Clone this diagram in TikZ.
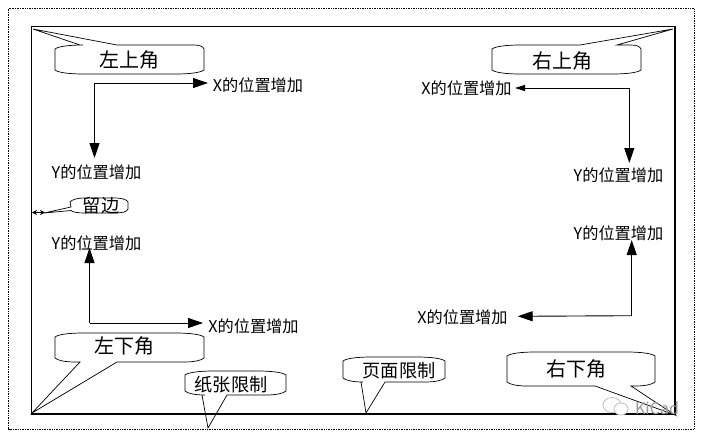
\documentclass[tikz,border=0pt]{standalone}
\usepackage{fontspec}
\usepackage{tikz}
\usetikzlibrary{arrows.meta}
\setmainfont{Noto Sans CJK SC}
\tikzset{
  calloutbody/.style={draw=black,line width=0.7pt,fill=white,line join=miter},
  bubbletext/.style={inner sep=0pt,font=\fontsize{20}{22}\selectfont},
  smalltext/.style={inner sep=0pt,font=\fontsize{18.2}{20}\selectfont},
  axistext/.style={inner sep=0pt,font=\fontsize{16.2}{18}\selectfont},
  axisline/.style={draw=black,line width=0.9pt,-{Triangle[length=15pt,width=10pt]}},
}
% x0 y0 x1 y1 base1 base2 tipx tipy : tail on the top edge
\newcommand{\calloutTop}[8]{%
  \path[calloutbody] (#1,{#2+4}) .. controls ({#1+3},{#2+1.5}) and ({#1+14},#2) .. ({#1+28},#2)
    -- (#5,#2) -- (#7,#8) -- (#6,#2) -- ({#3-10},#2)
    .. controls ({#3-4},#2) and ({#3-1},{#2+1.5}) .. (#3,{#2+4})
    -- (#3,{#4-4}) .. controls ({#3-3},{#4-1.5}) and ({#3-14},#4) .. ({#3-28},#4)
    -- ({#1+28},#4) .. controls ({#1+14},#4) and ({#1+3},{#4-1.5}) .. (#1,{#4-4}) -- cycle;}
% x0 y0 x1 y1 base1 base2 tipx tipy : tail on the bottom edge
\newcommand{\calloutBottom}[8]{%
  \path[calloutbody] (#1,{#2+4}) .. controls ({#1+3},{#2+1.5}) and ({#1+14},#2) .. ({#1+28},#2)
    -- ({#3-28},#2) .. controls ({#3-14},#2) and ({#3-3},{#2+1.5}) .. (#3,{#2+4})
    -- (#3,{#4-4}) .. controls ({#3-3},{#4-1.5}) and ({#3-10},#4) .. ({#3-20},#4)
    -- (#6,#4) -- (#7,#8) -- (#5,#4)
    -- ({#1+20},#4) .. controls ({#1+10},#4) and ({#1+3},{#4-1.5}) .. (#1,{#4-4}) -- cycle;}
\begin{document}
\begin{tikzpicture}[x=1pt,y=-1pt]
\useasboundingbox (0,0) rectangle (702,437);
% callouts
\calloutTop{55}{45}{204}{74}{80}{117}{33}{29}
\calloutTop{492}{45}{641}{74}{580}{617}{673}{29}
\calloutBottom{55}{333}{204}{362}{80}{117}{32}{413}
\calloutBottom{185}{371}{286}{395}{202}{227}{208}{428}
\calloutBottom{343}{357}{445}{382}{361}{385}{366}{413}
\calloutBottom{507}{352}{655}{386}{595}{631}{675}{415}
\path[calloutbody] (70,202) .. controls (72,199.5) and (78,198) .. (84,198) -- (114,198)
  .. controls (122,198) and (127,199.5) .. (128,202) -- (128,209)
  .. controls (127,212) and (122,213) .. (114,213) -- (84,213)
  .. controls (78,213) and (72,212) .. (71,210.5) -- (44,213) -- (71,207) -- cycle;
% frames
\draw[line width=0.7pt,densely dotted] (8.5,8.5) rectangle (694,429);
\draw[line width=1.2pt,draw=black] (31.5,26.5) rectangle (675,414);
% watermark
\draw[black!25,line width=0.8pt,fill=white] (612,405) ellipse (9 and 7.5);
\draw[black!25,line width=0.8pt,fill=white] (621,409) ellipse (7 and 6);
\node[inner sep=0pt,text=black!40,font=\fontsize{16}{17}\selectfont] (kicad) at (657,408) {KiCad};
% callout labels
\node[bubbletext] (ltl) at (129,59.5) {左上角};
\node[bubbletext] (ltr) at (562,61) {右上角};
\node[bubbletext] (lbl) at (124,346) {左下角};
\node[bubbletext] (lbr) at (576,368.5) {右下角};
\node[smalltext] (lpaper) at (231,385) {纸张限制};
\node[smalltext] (lpage) at (399,370.5) {页面限制};
\node[smalltext] (lmargin) at (101,205.5) {留边};
% axis labels
\node[axistext] (xtl) at (258,85) {X的位置增加};
\node[axistext] (ytl) at (96.5,172.5) {Y的位置增加};
\node[axistext] (ybl) at (96.5,243.5) {Y的位置增加};
\node[axistext] (xbl) at (253.5,326) {X的位置增加};
\node[axistext] (xtr) at (466.5,88.5) {X的位置增加};
\node[axistext] (ytr) at (618.5,175.5) {Y的位置增加};
\node[axistext] (ybr) at (618.5,233.5) {Y的位置增加};
\node[axistext] (xbr) at (462.5,317) {X的位置增加};
% arrows
\coordinate (ctl) at (94.5,83);
\coordinate (atlx) at (208,83);
\coordinate (atly) at (94.5,158);
\draw[axisline] (ctl) -- (atlx);
\draw[axisline] (ctl) -- (atly);
\coordinate (cbl) at (89.5,323);
\coordinate (ablx) at (203,323);
\coordinate (ably) at (89.5,248);
\draw[axisline] (cbl) -- (ablx);
\draw[axisline] (cbl) -- (ably);
\coordinate (ctr) at (629.3,88);
\coordinate (atrx) at (515,88);
\coordinate (atry) at (629.3,163);
\draw[axisline,-{Triangle[length=10pt,width=6pt]}] (ctr) -- (atrx);
\draw[axisline] (ctr) -- (atry);
\coordinate (cbr) at (631.7,315.7);
\coordinate (abrx) at (517.7,316.3);
\coordinate (abry) at (631.7,240);
\draw[axisline] (cbr) -- (abrx);
\draw[axisline] (cbr) -- (abry);
% margin arrow
\coordinate (ml) at (32,212.5);
\coordinate (mr) at (45,212.5);
\draw[line width=0.7pt,{Stealth[length=5pt,width=5pt]}-{Stealth[length=5pt,width=5pt]}] (ml) -- (mr);
\end{tikzpicture}
\end{document}
